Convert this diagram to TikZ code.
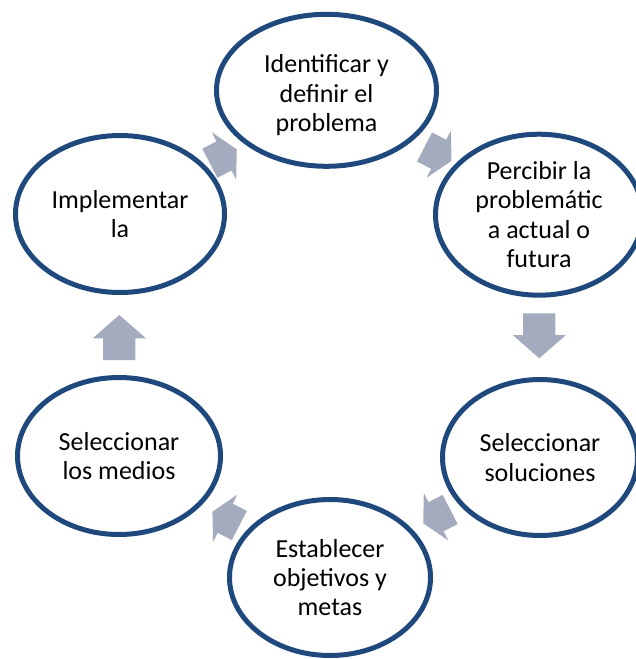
\documentclass[tikz,border=0pt]{standalone}
\usepackage{fontspec}
\setmainfont{Carlito}
\usetikzlibrary{shapes.geometric}
\definecolor{ringblue}{HTML}{1F497D}
\definecolor{arrowgray}{RGB}{165,171,190}
\tikzset{
  cyctext/.style={align=center, inner sep=0pt, font=\fontsize{26}{29.3}\selectfont},
  cyc/.style={ellipse, draw=ringblue, line width=5pt, inner sep=0pt, cyctext},
  longarrow/.pic={\fill[arrowgray] (-22.5,-16.15) -- (-0.8,-16.15) -- (-0.8,-26.65) -- (22.5,0)
     -- (-0.8,26.65) -- (-0.8,16.15) -- (-22.5,16.15) -- cycle;},
  shortarrow/.pic={\fill[arrowgray] (-15.15,-16.4) -- (0.75,-16.4) -- (0.75,-26.65) -- (15.15,0)
     -- (0.75,26.65) -- (0.75,16.4) -- (-15.15,16.4) -- cycle;},
}
\begin{document}
\begin{tikzpicture}[x=1pt,y=-1pt]
\useasboundingbox (0,0) rectangle (636,659);
\clip (0,0) rectangle (636,659);
\node[cyc, minimum width=220pt, minimum height=152pt] (e1) at (326.5,90.3) {};
\node[cyctext] (t1) at ([yshift=-5pt]e1.center) {Identificar y\\definir el\\problema};
\node[cyc, minimum width=207pt, minimum height=161pt] (e2) at (539,214.7) {Percibir la\\problemátic\\a actual o\\futura};
\node[cyc, minimum width=195pt, minimum height=156pt] (e3) at (540,457.5) {Seleccionar\\soluciones};
\node[cyc, minimum width=201pt, minimum height=156pt] (e4) at (330,577.5) {Establecer\\objetivos y\\metas};
\node[cyc, minimum width=203pt, minimum height=157pt] (e5) at (119,456) {Seleccionar\\los medios};
\node[cyc, minimum width=209pt, minimum height=157pt] (e6) at (120,214) {Implementar\\la};
\pic[rotate=27.3] at (223.3,156.3) {shortarrow};
\pic[rotate=-27.3] at (438,153.9) {shortarrow};
\pic[rotate=-90] at (539.3,335.8) {longarrow};
\pic[rotate=-152.7] at (436.7,516.4) {shortarrow};
\pic[rotate=152.7] at (225.9,518.6) {shortarrow};
\pic[rotate=90] at (119.3,337.5) {longarrow};
\end{tikzpicture}
\end{document}
